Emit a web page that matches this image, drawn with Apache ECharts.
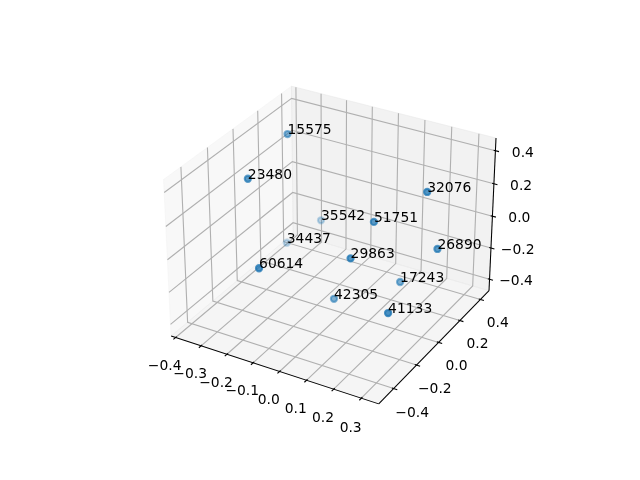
<!DOCTYPE html>
<html><head><meta charset="utf-8">
<script src="https://cdn.jsdelivr.net/npm/echarts@6/dist/echarts.min.js"></script>
<style>html,body{margin:0;padding:0;background:#fff}#c{width:640px;height:480px}</style>
</head><body><div id="c"></div>
<script>
// ---- data ----
const labels = ['15575','23480','32076','35542','51751','34437','26890','29863','60614','17243','42305','41133'];
const xs = [-0.281,-0.275, 0.257,-0.273, 0.113,-0.368, 0.313, 0.097,-0.141, 0.168,-0.016, 0.264];
const ys = [ 0.156,-0.180, 0.124, 0.421, 0.006, 0.322, 0.090,-0.155,-0.381, 0.117,-0.039,-0.221];
const zs = [ 0.415, 0.340, 0.317,-0.278, 0.144,-0.408, 0.021, 0.017,-0.012,-0.271,-0.365,-0.189];
const xTicks = [-0.4,-0.3,-0.2,-0.1,0.0,0.1,0.2,0.3];
const yTicks = [-0.4,-0.2,0.0,0.2,0.4];
const zTicks = [-0.4,-0.2,0.0,0.2,0.4];
const xLim = [-0.4178, 0.3622];
const yLim = [-0.527, 0.485];
const zLim = [-0.4737, 0.4755];

// ---- 3D projection (matplotlib-like, elev 30, azim -60) ----
const ELEV = 30, AZIM = -60, DIST = 10;
const asp0 = [4,4,3];
const nrm = Math.hypot(asp0[0], asp0[1], asp0[2]);
const BOX = asp0.map(a => a * 1.8294640721620434 * 25 / 24 / nrm);
const er = ELEV * Math.PI / 180, ar = AZIM * Math.PI / 180;
const dot = (a, b) => a[0]*b[0] + a[1]*b[1] + a[2]*b[2];
const norm3 = a => { const n = Math.hypot(a[0], a[1], a[2]); return a.map(v => v / n); };
const Wv = [Math.cos(er)*Math.cos(ar), Math.cos(er)*Math.sin(ar), Math.sin(er)];
const Uv = norm3([-Wv[1], Wv[0], 0]);
const Vv = [Wv[1]*Uv[2]-Wv[2]*Uv[1], Wv[2]*Uv[0]-Wv[0]*Uv[2], Wv[0]*Uv[1]-Wv[1]*Uv[0]];
const LIMS = [xLim, yLim, zLim];
function project(p) {
  const d = p.map((v, i) => ((v - LIMS[i][0]) / (LIMS[i][1] - LIMS[i][0]) - 0.5) * BOX[i]);
  const a = dot(Uv, d), b = dot(Vv, d), c = dot(Wv, d);
  const den = DIST - c;
  return [a / den, b / den, -DIST / den];
}

const lo = [xLim[0], yLim[0], zLim[0]], hi = [xLim[1], yLim[1], zLim[1]];
const RG = [0,1,2].map(i => hi[i] - lo[i]);
const DL = RG.map(r => r / 12);
const LD = RG.map(r => 11.5 * (48 / 532.22) * r / 12);

const panes = [
  {pts: [[lo[0],lo[1],lo[2]],[lo[0],hi[1],lo[2]],[lo[0],hi[1],hi[2]],[lo[0],lo[1],hi[2]]], color: 'rgba(242,242,242,0.5)'},
  {pts: [[lo[0],hi[1],lo[2]],[hi[0],hi[1],lo[2]],[hi[0],hi[1],hi[2]],[lo[0],hi[1],hi[2]]], color: 'rgba(230,230,230,0.5)'},
  {pts: [[lo[0],lo[1],lo[2]],[hi[0],lo[1],lo[2]],[hi[0],hi[1],lo[2]],[lo[0],hi[1],lo[2]]], color: 'rgba(236,236,236,0.5)'}
];

const lines = [];
xTicks.forEach(t => lines.push({pts: [[t,lo[1],lo[2]],[t,hi[1],lo[2]],[t,hi[1],hi[2]]], color: '#b0b0b0', w: 1.11}));
yTicks.forEach(t => lines.push({pts: [[lo[0],t,hi[2]],[lo[0],t,lo[2]],[hi[0],t,lo[2]]], color: '#b0b0b0', w: 1.11}));
zTicks.forEach(t => lines.push({pts: [[hi[0],hi[1],t],[lo[0],hi[1],t],[lo[0],lo[1],t]], color: '#b0b0b0', w: 1.11}));
lines.push({pts: [[lo[0],lo[1],lo[2]],[hi[0],lo[1],lo[2]]], color: '#000', w: 1.05});
lines.push({pts: [[hi[0],hi[1],lo[2]],[hi[0],lo[1],lo[2]]], color: '#000', w: 1.05});
lines.push({pts: [[hi[0],hi[1],lo[2]],[hi[0],hi[1],hi[2]]], color: '#000', w: 1.05});
xTicks.forEach(t => lines.push({pts: [[t,lo[1]+0.1*DL[1],lo[2]],[t,lo[1]-0.2*DL[1],lo[2]]], color: '#000', w: 1.11}));
yTicks.forEach(t => lines.push({pts: [[hi[0]-0.1*DL[0],t,lo[2]],[hi[0]+0.2*DL[0],t,lo[2]]], color: '#000', w: 1.11}));
zTicks.forEach(t => lines.push({pts: [[hi[0]-0.1*DL[0],hi[1],t],[hi[0]+0.2*DL[0],hi[1],t]], color: '#000', w: 1.11}));

const fmt = v => (v < -1e-9 ? '\u2212' : '') + Math.abs(v).toFixed(1);
const tickLabels = [];
xTicks.forEach(t => tickLabels.push({p: [t, lo[1]-LD[1], lo[2]-LD[2]], text: fmt(t)}));
yTicks.forEach(t => tickLabels.push({p: [hi[0]+LD[0], t, lo[2]-LD[2]], text: fmt(t)}));
zTicks.forEach(t => tickLabels.push({p: [hi[0]+LD[0], hi[1]+LD[1], t], text: fmt(t)}));

// points
let pts = labels.map((l, i) => { const p = project([xs[i], ys[i], zs[i]]); return {name: l, pz: p[2], value: [p[0], p[1]]}; });
const pzMin = Math.min(...pts.map(p => p.pz)), pzMax = Math.max(...pts.map(p => p.pz));
pts.forEach(p => {
  const a = 1 - 0.7 * (p.pz - pzMin) / (pzMax - pzMin);
  const col = 'rgba(31,119,180,' + a.toFixed(3) + ')';
  p.itemStyle = {color: col, borderColor: col, borderWidth: 2.08};
});
pts.sort((a, b) => b.pz - a.pz);

const FONT = 'DejaVu Sans';
const FS = 13.89;
const dummy = arr => arr.map(() => [0, 0]);

const chart = echarts.init(document.getElementById('c'), null, {renderer: 'canvas', width: 640, height: 480});
chart.setOption({
  animation: false,
  backgroundColor: '#ffffff',
  grid: {left: 143.2, top: 57.6, width: 369.6, height: 369.6},
  xAxis: {type: 'value', min: -0.095, max: 0.09, show: false},
  yAxis: {type: 'value', min: -0.095, max: 0.09, show: false},
  series: [
    {
      type: 'custom', coordinateSystem: 'cartesian2d', z: 1, silent: true,
      data: dummy(panes),
      renderItem: (params, api) => {
        const pn = panes[params.dataIndex];
        return {type: 'polygon', shape: {points: pn.pts.map(p => api.coord(project(p).slice(0, 2)))},
                style: {fill: pn.color, stroke: pn.color, lineWidth: 1}};
      }
    },
    {
      type: 'custom', coordinateSystem: 'cartesian2d', z: 2, silent: true,
      data: dummy(lines),
      renderItem: (params, api) => {
        const ln = lines[params.dataIndex];
        return {type: 'polyline', shape: {points: ln.pts.map(p => api.coord(project(p).slice(0, 2)))},
                style: {stroke: ln.color, lineWidth: ln.w, fill: null}};
      }
    },
    {
      type: 'custom', coordinateSystem: 'cartesian2d', z: 3, silent: true,
      data: dummy(tickLabels),
      renderItem: (params, api) => {
        const tl = tickLabels[params.dataIndex];
        const c = api.coord(project(tl.p).slice(0, 2));
        return {type: 'text', x: c[0], y: c[1] + 5.8,
                style: {text: tl.text, fill: '#000', fontFamily: FONT, fontSize: FS, lineHeight: 14,
                        align: 'center', verticalAlign: 'middle'}};
      }
    },
    {
      type: 'scatter', z: 4, silent: true,
      symbol: 'circle', symbolSize: 6.21,
      data: pts
    },
    {
      type: 'custom', coordinateSystem: 'cartesian2d', z: 5, silent: true,
      data: dummy(labels),
      renderItem: (params, api) => {
        const i = params.dataIndex;
        const c = api.coord(project([xs[i], ys[i], zs[i]]).slice(0, 2));
        return {type: 'text', x: c[0], y: c[1] - 3.6,
                style: {text: labels[i], fill: '#000', fontFamily: FONT, fontSize: FS, lineHeight: 14,
                        align: 'left', verticalAlign: 'middle'}};
      }
    }
  ]
});
</script>
</body></html>
